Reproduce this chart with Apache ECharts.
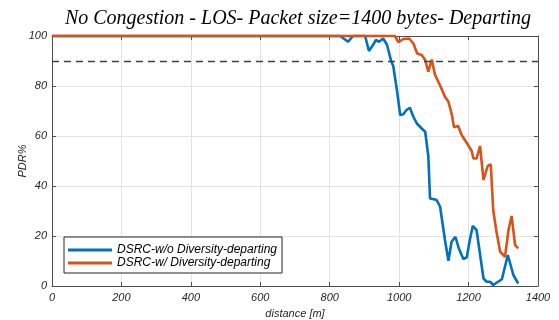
<!DOCTYPE html>
<html>
<head>
<meta charset="utf-8">
<script src="https://cdn.jsdelivr.net/npm/echarts@6/dist/echarts.min.js"></script>
<style>
html,body{margin:0;padding:0;background:#fff;}
#c{width:559px;height:320px;}
</style>
</head>
<body>
<div id="c"></div>
<script>
const titleText = 'No Congestion - LOS- Packet size=1400 bytes- Departing';
const seriesNames = ['DSRC-w/o Diversity-departing', 'DSRC-w/ Diversity-departing'];
const xTicks = [0, 200, 400, 600, 800, 1000, 1200, 1400];
const yTicks = [0, 20, 40, 60, 80, 100];
const thresholdPDR = 90;

const distWo = [0, 830, 840, 853, 867, 880, 902, 913, 925, 933, 942, 954, 965, 977, 983, 994, 1003, 1012, 1022, 1031, 1041, 1051, 1065, 1075, 1084, 1089, 1100, 1108, 1118, 1132, 1142, 1151, 1162, 1172, 1185, 1195, 1203, 1212, 1223, 1243, 1252, 1262, 1271, 1296, 1313, 1329, 1343];
const pdrWo  = [100, 100, 99, 97.7, 100, 100, 100, 94, 96.5, 98.4, 97.7, 99, 96.5, 90, 88, 78, 68.4, 68.7, 70.5, 71.3, 67.7, 65, 63, 61.7, 52, 35, 34.7, 34.4, 31.7, 18.4, 10.1, 17.7, 19.7, 15, 10.8, 11.5, 18, 24, 22.4, 3, 1.7, 1.7, 0.4, 2.7, 12.4, 4.4, 1];

const distW = [0, 988, 998, 1012, 1029, 1041, 1052, 1065, 1075, 1084, 1094, 1103, 1118, 1132, 1142, 1152, 1158, 1170, 1180, 1195, 1209, 1214, 1223, 1233, 1243, 1255, 1264, 1271, 1280, 1291, 1305, 1315, 1324, 1334, 1343];
const pdrW  = [100, 100, 97.5, 98.8, 99, 97, 93, 92.4, 90.4, 85.7, 90.6, 84.6, 80.2, 75.7, 73.7, 68.4, 63.5, 64, 60.4, 57.2, 54, 51, 51, 56, 42.4, 48, 48.6, 30.4, 22, 13.7, 11.7, 22.4, 28, 16.4, 15];

const toPairs = (xs, ys) => xs.map((x, i) => [x, ys[i]]);

const axisFont = { fontFamily: 'Liberation Sans', fontStyle: 'italic', fontSize: 11, color: '#262626' };
const axisLineCol = '#4d4d4d';

const chart = echarts.init(document.getElementById('c'), null, { renderer: 'canvas' });
chart.setOption({
  animation: false,
  backgroundColor: '#ffffff',
  title: {
    text: titleText,
    left: 293, top: 4, textAlign: 'center',
    textStyle: { fontFamily: 'Liberation Serif', fontStyle: 'italic', fontWeight: 'normal', fontSize: 20, color: '#000' }
  },
  grid: { left: 52, right: 21, top: 36, bottom: 34, containLabel: false, outerBoundsMode: 'none' },
  legend: {
    orient: 'vertical', left: 64, top: 237,
    backgroundColor: '#fff', borderColor: '#262626', borderWidth: 1,
    padding: [7, 5, 4, 4], itemGap: 1,
    itemWidth: 44, itemHeight: 3, icon: 'rect',
    textStyle: { fontFamily: 'Liberation Sans', fontStyle: 'italic', fontSize: 12, color: '#000', lineHeight: 12 },
    data: seriesNames
  },
  xAxis: [{
    type: 'value', min: xTicks[0], max: xTicks[xTicks.length - 1], interval: 200,
    name: 'distance [m]', nameLocation: 'middle', nameGap: 22, nameMoveOverlap: false, nameTextStyle: axisFont,
    axisLine: { show: true, onZero: false, lineStyle: { color: axisLineCol, width: 1 } },
    axisTick: { show: true, inside: true, length: 4, lineStyle: { color: axisLineCol } },
    axisLabel: Object.assign({ margin: 6, formatter: v => String(v) }, axisFont),
    splitLine: { show: true, lineStyle: { color: '#e3e3e3', width: 1 } }
  }, {
    type: 'value', position: 'top', min: xTicks[0], max: xTicks[xTicks.length - 1], interval: 200,
    axisLine: { show: true, onZero: false, lineStyle: { color: axisLineCol, width: 1 } },
    axisTick: { show: true, inside: true, length: 4, lineStyle: { color: axisLineCol } },
    axisLabel: { show: false }, splitLine: { show: false }
  }],
  yAxis: [{
    type: 'value', min: yTicks[0], max: yTicks[yTicks.length - 1], interval: 20,
    name: 'PDR%', nameLocation: 'middle', nameGap: 24, nameMoveOverlap: false, nameTextStyle: axisFont,
    axisLine: { show: true, onZero: false, lineStyle: { color: axisLineCol, width: 1 } },
    axisTick: { show: true, inside: true, length: 4, lineStyle: { color: axisLineCol } },
    axisLabel: Object.assign({ margin: 5, formatter: v => String(v) }, axisFont),
    splitLine: { show: true, lineStyle: { color: '#e3e3e3', width: 1 } }
  }, {
    type: 'value', position: 'right', min: yTicks[0], max: yTicks[yTicks.length - 1], interval: 20,
    axisLine: { show: true, onZero: false, lineStyle: { color: axisLineCol, width: 1 } },
    axisTick: { show: true, inside: true, length: 4, lineStyle: { color: axisLineCol } },
    axisLabel: { show: false }, splitLine: { show: false }
  }],
  series: [{
    name: seriesNames[0], type: 'line', data: toPairs(distWo, pdrWo),
    showSymbol: false, symbol: 'none', clip: false,
    lineStyle: { color: '#0072BD', width: 2.6 }, itemStyle: { color: '#0072BD' },
    z: 3,
    markLine: {
      silent: true, symbol: ['none', 'none'], label: { show: false },
      lineStyle: { color: '#404040', type: [7, 5], width: 1.3 },
      data: [{ yAxis: thresholdPDR }]
    }
  }, {
    name: seriesNames[1], type: 'line', data: toPairs(distW, pdrW),
    showSymbol: false, symbol: 'none', clip: false,
    lineStyle: { color: '#D95319', width: 2.6 }, itemStyle: { color: '#D95319' },
    z: 4
  }]
});
</script>
</body>
</html>
